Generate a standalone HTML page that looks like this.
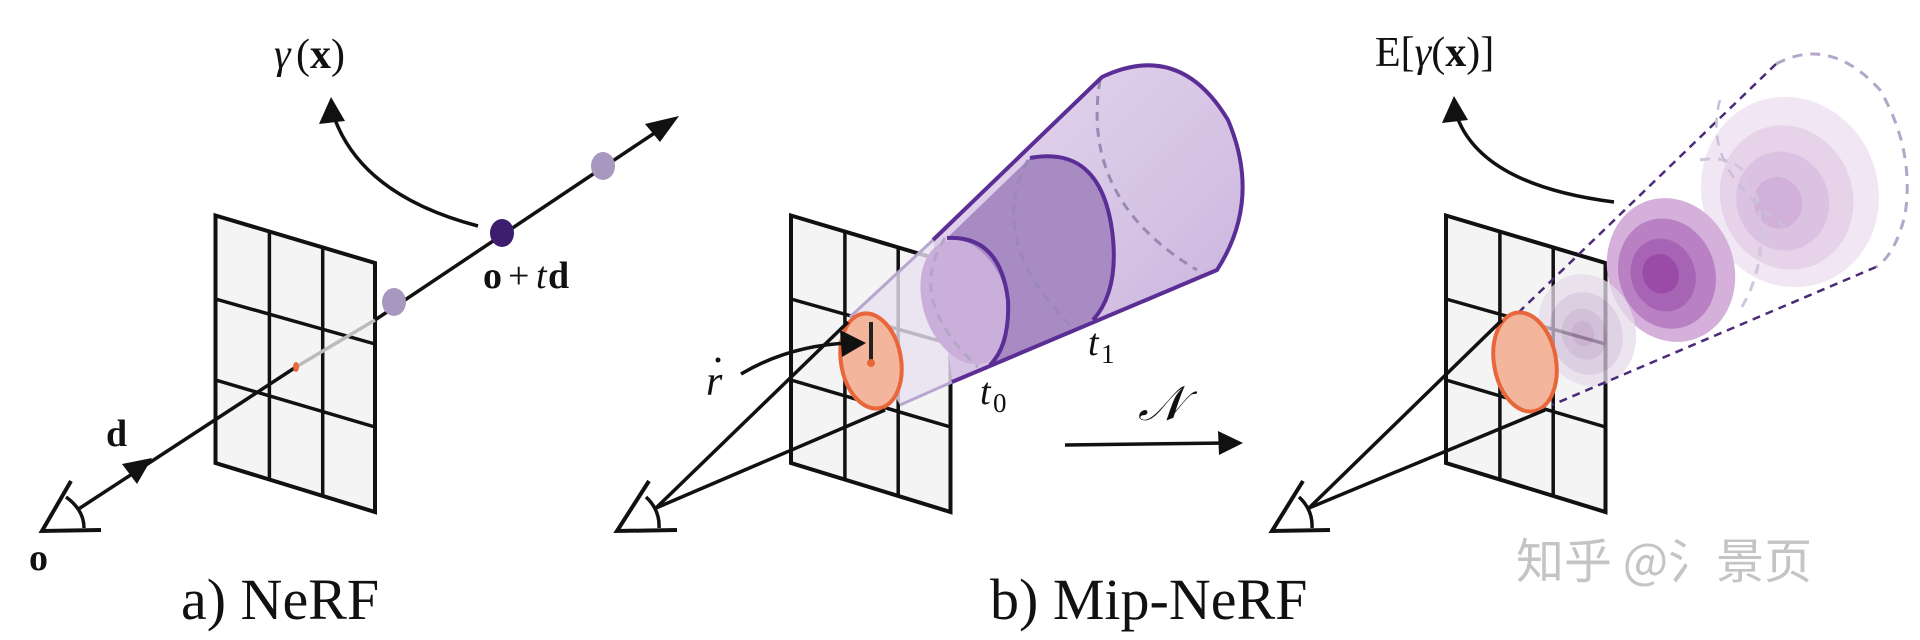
<!DOCTYPE html>
<html><head><meta charset="utf-8"><style>
html,body{margin:0;padding:0;background:#fff;}
svg{display:block;}
</style></head><body>
<svg width="1920" height="640" viewBox="0 0 1920 640" xmlns="http://www.w3.org/2000/svg" font-family="'Liberation Serif', serif">
<defs>
<g id="grid">
<path d="M215.5,215.5 L375,263 L375,512 L215.5,463 Z" fill="#f4f4f5" stroke="#111" stroke-width="4" stroke-linejoin="miter"/>
<path d="M269.4,231.6 L269.4,479.6 M322.7,247.4 L322.7,495.9 M215.5,299 L375,344 M215.5,380 L375,427" stroke="#111" stroke-width="3.5" fill="none"/>
</g>
<linearGradient id="cg" x1="0" y1="0" x2="1" y2="1">
<stop offset="0" stop-color="#e6d9ef"/><stop offset="1" stop-color="#c9b2dc"/></linearGradient>
</defs>

<!-- ========== a) NeRF ========== -->
<use href="#grid"/>
<line x1="296" y1="367" x2="375" y2="320" stroke="#bbb" stroke-width="3.5"/>
<line x1="77" y1="510" x2="296" y2="367" stroke="#111" stroke-width="3.5"/>
<line x1="375" y1="320" x2="665" y2="126" stroke="#111" stroke-width="3.5"/>
<path d="M679,116 L645,124 L660,142 Z" fill="#111"/>
<path d="M152,458 L122,464 L137,484 Z" fill="#111"/>
<ellipse cx="296" cy="367" rx="3" ry="5" fill="#e8663a"/>
<ellipse cx="394" cy="302" rx="12" ry="14" fill="#a897bf"/>
<ellipse cx="603" cy="166" rx="12" ry="14" fill="#a897bf"/>
<ellipse cx="502" cy="233" rx="12" ry="14" fill="#3d1d6e"/>
<path d="M478,226 Q360,195 333,114" stroke="#111" stroke-width="3.5" fill="none"/>
<path d="M331,97 L319,124 L345,121 Z" fill="#111"/>
<path d="M71,481 L42,531 L101,530" stroke="#111" stroke-width="4" fill="none"/>
<path d="M66,497 Q84,510 84,528" stroke="#111" stroke-width="3.5" fill="none"/>
<text x="274" y="68" font-size="42" font-style="italic" fill="#111">γ</text>
<text x="296" y="68" font-size="42" fill="#111">(<tspan font-weight="bold">x</tspan>)</text>
<text x="483" y="288" font-size="38" font-weight="bold" fill="#111">o</text>
<text x="508" y="288" font-size="38" fill="#111">+</text>
<text x="536" y="288" font-size="38" font-style="italic" fill="#111">t</text>
<text x="548" y="288" font-size="38" font-weight="bold" fill="#111">d</text>
<text x="106" y="446" font-size="38" font-weight="bold" fill="#111">d</text>
<text x="29" y="570" font-size="38" font-weight="bold" fill="#111">o</text>
<text x="181" y="619" font-size="58" fill="#111">a) NeRF</text>

<!-- ========== b) Mip-NeRF ========== -->
<g transform="translate(575.5,0)"><use href="#grid"/></g>
<path d="M933,240 L1102,77 Q1180,40 1228,120 Q1262,200 1217,270 L952,382 Z" fill="url(#cg)"/>
<path d="M850,317 L933,240 L952,382 L900,405 Z" fill="#e9e0f0" opacity="0.8"/>
<path d="M947,238 L1030,158 Q1100,150 1112,230 Q1118,290 1093,320 L990,365 Q1010,300 990,270 Q975,240 947,238 Z" fill="#a98bc4"/>
<ellipse cx="965" cy="302" rx="42" ry="64" transform="rotate(-18 965 302)" fill="#c9afd9"/>
<path d="M1100,80 Q1080,200 1197,270" stroke="#9a88b5" stroke-width="3" stroke-dasharray="9,7" fill="none"/>
<path d="M1028,160 Q985,240 1070,325" stroke="#9a88b5" stroke-width="3" stroke-dasharray="9,7" fill="none"/>
<path d="M945,238 Q905,300 978,367" stroke="#b3a6c8" stroke-width="3" stroke-dasharray="9,7" fill="none"/>
<path d="M933,240 L1102,77 Q1180,40 1228,120 Q1262,200 1217,270 L952,382" stroke="#5b2e96" stroke-width="4" fill="none"/>
<path d="M1030,158 Q1100,145 1112,230 Q1120,290 1093,320" stroke="#5b2e96" stroke-width="4" fill="none"/>
<path d="M947,238 Q1000,235 1008,300 Q1010,345 990,365" stroke="#5b2e96" stroke-width="4" fill="none"/>
<path d="M850,317 L933,240 M900,405 L952,382" stroke="#b7a6d0" stroke-width="3" fill="none"/>
<ellipse cx="871" cy="361" rx="30" ry="48" transform="rotate(-10 871 361)" fill="#f3b59c" stroke="#e8663a" stroke-width="4"/>
<line x1="871" y1="322" x2="871" y2="360" stroke="#222" stroke-width="4"/>
<circle cx="871" cy="363" r="4" fill="#e8663a"/>
<line x1="656" y1="508" x2="848" y2="322" stroke="#111" stroke-width="3.5"/>
<line x1="656" y1="508" x2="885" y2="410" stroke="#111" stroke-width="3.5"/>
<path d="M649,481 L617,531 L677,530" stroke="#111" stroke-width="4" fill="none"/>
<path d="M646,497 Q660,510 659,528" stroke="#111" stroke-width="3.5" fill="none"/>
<path d="M741,374 Q790,345 850,343" stroke="#111" stroke-width="3.5" fill="none"/>
<path d="M866,343 L840,330 L842,357 Z" fill="#111"/>
<text x="706" y="395" font-size="42" font-style="italic" fill="#111">r</text>
<circle cx="718" cy="360" r="2.5" fill="#111"/>
<text x="1088" y="355" font-size="38" font-style="italic" fill="#111">t</text>
<text x="1101" y="363" font-size="27" fill="#111">1</text>
<text x="980" y="404" font-size="38" font-style="italic" fill="#111">t</text>
<text x="993" y="412" font-size="27" fill="#111">0</text>
<text x="1138" y="420" font-size="48" font-style="italic" fill="#111">𝒩</text>
<line x1="1065" y1="445" x2="1228" y2="443" stroke="#111" stroke-width="3.5"/>
<path d="M1243,443 L1218,431 L1219,455 Z" fill="#111"/>
<text x="990" y="619" font-size="58" fill="#111">b) Mip-NeRF</text>

<!-- ========== right ========== -->
<g transform="translate(1230.5,0)"><use href="#grid"/></g>
<g transform="rotate(-20 1790 192)">
<ellipse cx="1790" cy="192" rx="88" ry="96" fill="#f1e6f3"/>
<ellipse cx="1785" cy="196" rx="66" ry="73" fill="#e6d3ea"/>
<ellipse cx="1780" cy="198" rx="46" ry="50" fill="#dcc2e2"/>
<ellipse cx="1775" cy="198" rx="24" ry="26" fill="#d1b1d9"/>
</g>
<g transform="rotate(-20 1671 270)">
<ellipse cx="1671" cy="270" rx="63" ry="73" fill="#d4b0da"/>
<ellipse cx="1666" cy="272" rx="48" ry="56" fill="#b981c3"/>
<ellipse cx="1662" cy="272" rx="32" ry="37" fill="#a864b4"/>
<ellipse cx="1660" cy="270" rx="18" ry="20" fill="#9a4aa7"/>
</g>
<g transform="rotate(-20 1587 330)" opacity="0.75">
<ellipse cx="1587" cy="330" rx="48" ry="57" fill="#e6dbea"/>
<ellipse cx="1585" cy="333" rx="36" ry="42" fill="#d5c3dc"/>
<ellipse cx="1583" cy="333" rx="22" ry="26" fill="#c7afd0"/>
<ellipse cx="1582" cy="332" rx="11" ry="13" fill="#bb9ec6"/>
</g>
<path d="M1776,64 L1519,312" stroke="#4b2a7a" stroke-width="2.5" stroke-dasharray="8,6" fill="none"/>
<path d="M1876,267 L1552,405" stroke="#4b2a7a" stroke-width="2.5" stroke-dasharray="8,6" fill="none"/>
<path d="M1776,64 Q1830,35 1880,90 Q1915,150 1905,215 Q1895,255 1876,267" stroke="#b3a6c8" stroke-width="3" stroke-dasharray="10,8" fill="none"/>
<path d="M1700,160 Q1755,150 1760,220 Q1765,270 1740,310" stroke="#cfc6dc" stroke-width="3" stroke-dasharray="10,8" fill="none"/>
<path d="M1720,100 Q1700,170 1790,230" stroke="#c8bedb" stroke-width="2.5" stroke-dasharray="10,8" fill="none"/>
<ellipse cx="1525" cy="362" rx="31" ry="50" transform="rotate(-10 1525 362)" fill="#f3b59c" stroke="#e8663a" stroke-width="4"/>
<line x1="1309" y1="508" x2="1502" y2="320" stroke="#111" stroke-width="3.5"/>
<line x1="1309" y1="508" x2="1545" y2="410" stroke="#111" stroke-width="3.5"/>
<path d="M1303,481 L1272,531 L1330,530" stroke="#111" stroke-width="4" fill="none"/>
<path d="M1299,497 Q1313,510 1312,528" stroke="#111" stroke-width="3.5" fill="none"/>
<path d="M1614,202 Q1480,185 1456,114" stroke="#111" stroke-width="3.5" fill="none"/>
<path d="M1454,96 L1442,123 L1468,120 Z" fill="#111"/>
<text x="1375" y="66" font-size="42" fill="#111">E[<tspan font-style="italic">γ</tspan>(<tspan font-weight="bold">x</tspan>)]</text>
<text x="1516" y="578" font-size="48" font-family="'Noto Sans CJK SC', sans-serif" fill="#c4c4c4">知乎 @氵景页</text>
</svg>
</body></html>
